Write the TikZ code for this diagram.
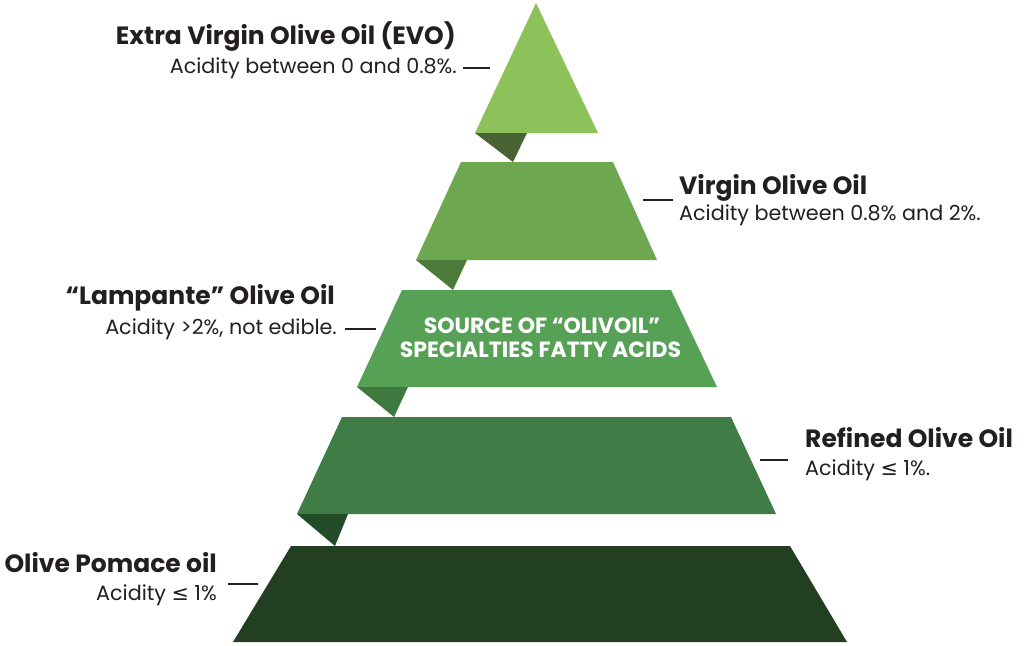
\documentclass[tikz,border=0pt]{standalone}
\usepackage{fontspec}
\setmainfont{Poppins}
\newfontfamily\symfont{DejaVu Sans}
\definecolor{txt}{HTML}{231F20}
\definecolor{tierA}{HTML}{8DC15A}
\definecolor{foldA}{HTML}{4A6334}
\definecolor{tierB}{HTML}{6DA851}
\definecolor{foldB}{HTML}{4B7A39}
\definecolor{tierC}{HTML}{57A157}
\definecolor{foldC}{HTML}{3E7A3E}
\definecolor{tierD}{HTML}{3F7C46}
\definecolor{foldD}{HTML}{224B28}
\definecolor{tierE}{HTML}{233F22}
\begin{document}
\begin{tikzpicture}[x=1pt,y=-1pt,
  ttl/.style={font=\bfseries\fontsize{25}{30}\selectfont, text=txt, inner sep=0pt},
  subt/.style={font=\fontsize{20.7}{24}\selectfont, text=txt, inner sep=0pt},
  tick/.style={draw=txt, line width=2.4pt},
  inner/.style={font=\bfseries\fontsize{22}{24}\selectfont, text=white, inner sep=0pt}]
\useasboundingbox[fill=white] (0,0) rectangle (1024,645);
% tiers
\fill[tierA] (536,3) -- (598,133) -- (475,133) -- cycle;
\fill[foldA] (475,133) -- (527,133) -- (513,162) -- cycle;
\fill[tierB] (461,162) -- (613,162) -- (657,260) -- (416,260) -- cycle;
\fill[foldB] (416,260) -- (467,260) -- (453,290) -- cycle;
\fill[tierC] (402,290) -- (671,290) -- (717,387) -- (357,387) -- cycle;
\fill[foldC] (357,387) -- (408,387) -- (394,417) -- cycle;
\fill[tierD] (342,417) -- (731,417) -- (776,514) -- (297,514) -- cycle;
\fill[foldD] (297,514) -- (348,514) -- (335,546) -- cycle;
\fill[tierE] (291,546) -- (790,546) -- (847,642) -- (233,642) -- cycle;
% centre text
\node[inner, anchor=base] (srcA) at (542,333) {SOURCE OF “OLIVOIL”};
\node[inner, anchor=base] (srcB) at (540.5,357) {SPECIALTIES FATTY ACIDS};
% labels
\node[ttl, anchor=base east] (evoT) at (456,44) {Extra Virgin Olive Oil (EVO)};
\node[subt, anchor=base east] (evoS) at (457,73) {Acidity between 0 and 0.8\%.};
\coordinate (evoA) at (463,68); \coordinate (evoB) at (490,68);
\draw[tick] (evoA) -- (evoB);
\node[ttl, anchor=base west] (virT) at (679,194) {Virgin Olive Oil};
\node[subt, anchor=base west] (virS) at (679,220) {Acidity between 0.8\% and 2\%.};
\coordinate (virA) at (643,200); \coordinate (virB) at (673,200);
\draw[tick] (virA) -- (virB);
\node[ttl, anchor=base east] (lamT) at (335,304) {“Lampante” Olive Oil};
\node[subt, anchor=base east] (lamS) at (337,334) {Acidity >2\%, not edible.};
\coordinate (lamA) at (345,329); \coordinate (lamB) at (376,329);
\draw[tick] (lamA) -- (lamB);
\node[ttl, anchor=base west] (refT) at (805,447) {Refined Olive Oil};
\node[subt, anchor=base west] (refS) at (805,475) {Acidity {\symfont ≤} 1\%.};
\coordinate (refA) at (760,460); \coordinate (refB) at (788,460);
\draw[tick] (refA) -- (refB);
\node[ttl, anchor=base east] (pomT) at (217,572) {Olive Pomace oil};
\node[subt, anchor=base east] (pomS) at (217,600) {Acidity {\symfont ≤} 1\%};
\coordinate (pomA) at (228,584); \coordinate (pomB) at (258,584);
\draw[tick] (pomA) -- (pomB);
\end{tikzpicture}
\end{document}
